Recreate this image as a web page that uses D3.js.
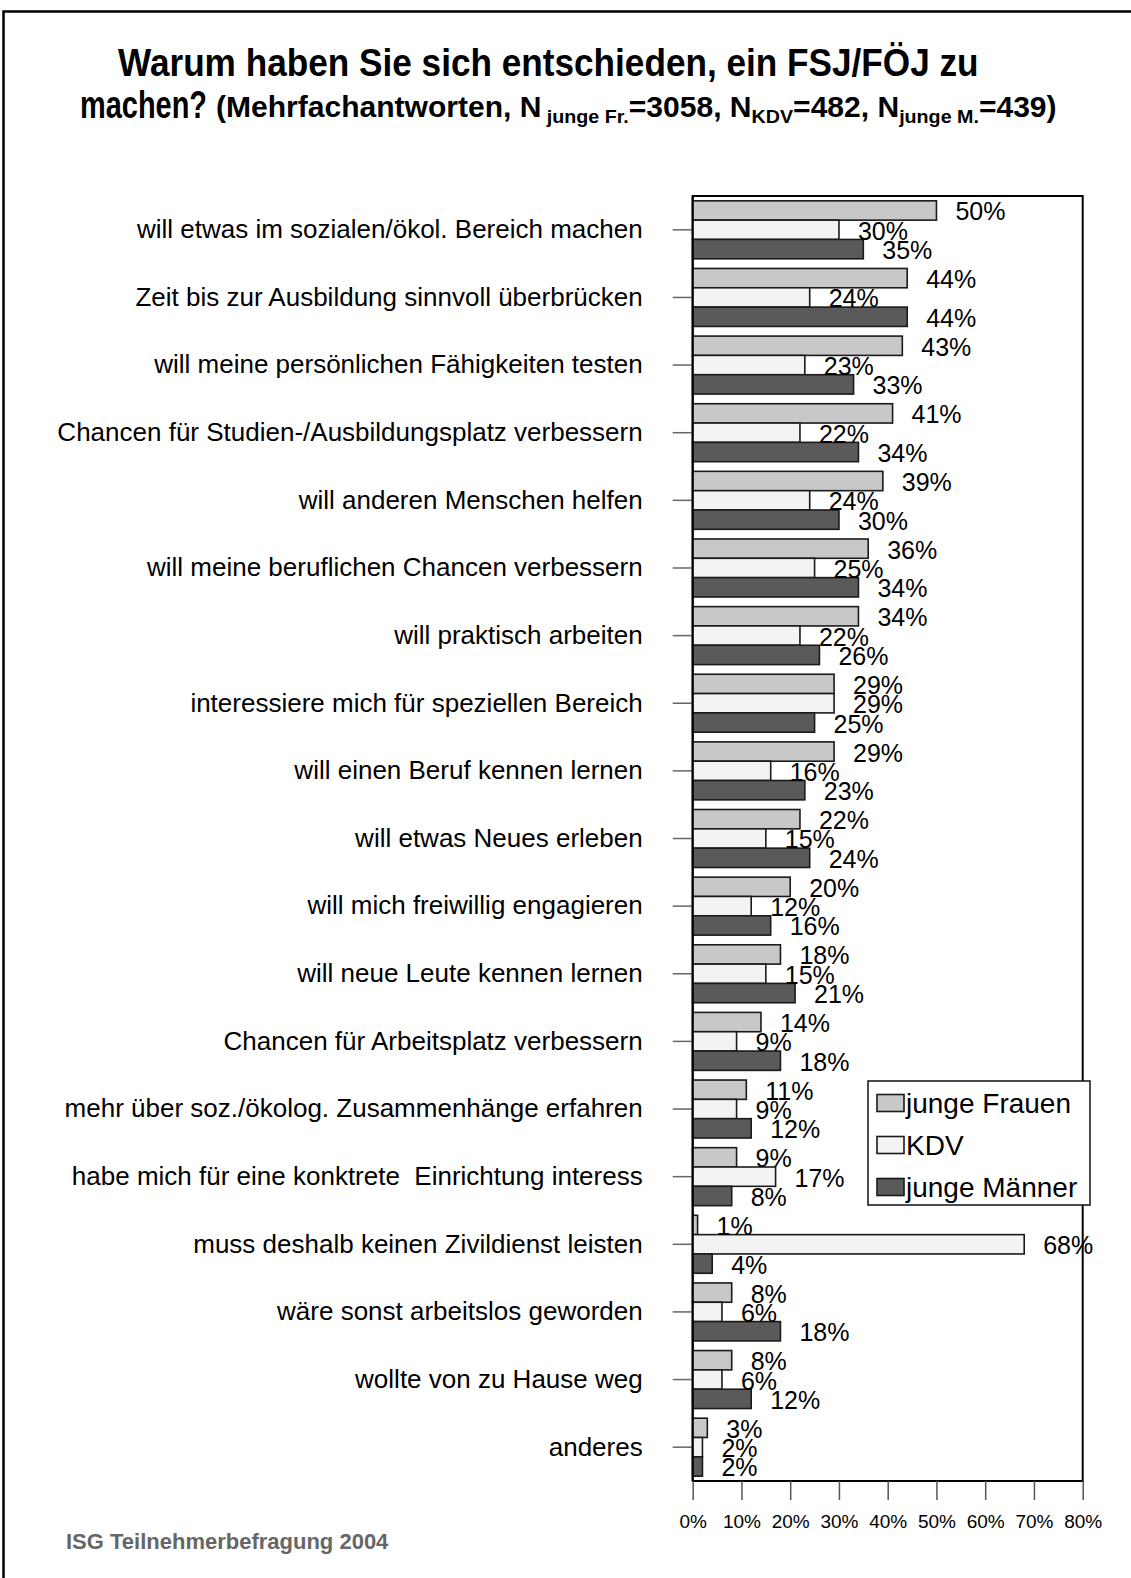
<!DOCTYPE html>
<html lang="de">
<head>
<meta charset="utf-8">
<title>FSJ/FÖJ – Gründe</title>
<script src="https://cdn.jsdelivr.net/npm/d3@7"></script>
<style>
  html, body { margin: 0; padding: 0; background: #fff; }
  svg { display: block; font-family: "Liberation Sans", Arial, Helvetica, sans-serif; }
</style>
</head>
<body>
<svg id="chart" width="1131" height="1578"></svg>
<script>
// Reasons for choosing a voluntary year (percent, multiple answers)
const categories = [
  "will etwas im sozialen/ökol. Bereich machen",
  "Zeit bis zur Ausbildung sinnvoll überbrücken",
  "will meine persönlichen Fähigkeiten testen",
  "Chancen für Studien-/Ausbildungsplatz verbessern",
  "will anderen Menschen helfen",
  "will meine beruflichen Chancen verbessern",
  "will praktisch arbeiten",
  "interessiere mich für speziellen Bereich",
  "will einen Beruf kennen lernen",
  "will etwas Neues erleben",
  "will mich freiwillig engagieren",
  "will neue Leute kennen lernen",
  "Chancen für Arbeitsplatz verbessern",
  "mehr über soz./ökolog. Zusammenhänge erfahren",
  "habe mich für eine konktrete  Einrichtung interess",
  "muss deshalb keinen Zivildienst leisten",
  "wäre sonst arbeitslos geworden",
  "wollte von zu Hause weg",
  "anderes"
];
const jungeFrauen = [50, 44, 43, 41, 39, 36, 34, 29, 29, 22, 20, 18, 14, 11, 9, 1, 8, 8, 3];
const kdv         = [30, 24, 23, 22, 24, 25, 22, 29, 16, 15, 12, 15, 9, 9, 17, 68, 6, 6, 2];
const jungeMaenner= [35, 44, 33, 34, 30, 34, 26, 25, 23, 24, 16, 21, 18, 12, 8, 4, 18, 12, 2];
const seriesNames = ["junge Frauen", "KDV", "junge Männer"];
const xTickValues = [0, 10, 20, 30, 40, 50, 60, 70, 80];

const seriesValues = [jungeFrauen, kdv, jungeMaenner];
const fills = ["#c8c8c8", "#f3f3f3", "#5a5a5a"];

const svg = d3.select("#chart");

// outer frame (left and top edges)
svg.append("path")
  .attr("d", "M3.5,1578 V11.5 H1131")
  .attr("fill", "none").attr("stroke", "#000").attr("stroke-width", 2.5);

// ---- title ----
function fitText(sel, x0, x1) {
  const node = sel.node();
  const w = node.getComputedTextLength();
  const sx = (x1 - x0) / w;
  const y = +sel.attr("data-y");
  sel.attr("x", 0).attr("y", 0)
     .attr("transform", `translate(${x0},${y}) scale(${sx},1)`);
}

const t1 = svg.append("text")
  .attr("data-y", 76)
  .attr("font-weight", "bold").attr("font-size", 39).attr("fill", "#000")
  .text("Warum haben Sie sich entschieden, ein FSJ/FÖJ zu");
fitText(t1, 118, 979);

const t2a = svg.append("text")
  .attr("data-y", 118)
  .attr("font-weight", "bold").attr("font-size", 39).attr("fill", "#000")
  .text("machen?");
fitText(t2a, 80, 207);

const t2b = svg.append("text")
  .attr("data-y", 117)
  .attr("font-weight", "bold").attr("font-size", 29).attr("fill", "#000");
const parts = [
  ["(Mehrfachantworten, N", false],
  [" junge Fr.", true],
  ["=3058, N", false],
  ["KDV", true],
  ["=482, N", false],
  ["junge M.", true],
  ["=439)", false]
];
parts.forEach(([s, sub], i) => {
  const ts = t2b.append("tspan").text(s);
  if (sub) ts.attr("font-size", 19).attr("dy", 6);
  else if (i > 0 && parts[i - 1][1]) ts.attr("dy", -6);
});
t2b.style("white-space", "pre");
fitText(t2b, 216, 1057);

// ---- plot ----
const plot = { left: 692.7, right: 1082.7, top: 196, bottom: 1481 };

const x = d3.scaleLinear().domain([0, 80]).range([plot.left, plot.right]);
const y = d3.scaleBand().domain(categories).range([plot.top, plot.bottom]).padding(0);
const inner = d3.scaleBand().domain(seriesNames)
  .range([0, y.bandwidth()]).paddingInner(0).paddingOuter(0.25);

// plot frame
svg.append("rect")
  .attr("x", plot.left).attr("y", plot.top)
  .attr("width", plot.right - plot.left).attr("height", plot.bottom - plot.top)
  .attr("fill", "#fff").attr("stroke", "#000").attr("stroke-width", 2);

// x axis
const xAxis = svg.append("g")
  .attr("transform", `translate(0,${plot.bottom})`)
  .call(d3.axisBottom(x).tickValues(xTickValues).tickFormat(d => d + "%")
        .tickSize(19).tickPadding(15).tickSizeOuter(0));
xAxis.select(".domain").remove();
xAxis.selectAll(".tick line").attr("stroke", "#555").attr("stroke-width", 1.5);
xAxis.selectAll(".tick text")
  .attr("font-family", "Liberation Sans, Arial, sans-serif")
  .attr("font-size", 19).attr("fill", "#000");

// y axis
const yAxis = svg.append("g")
  .attr("transform", `translate(${plot.left},0)`)
  .call(d3.axisLeft(y).tickSize(20).tickPadding(30).tickSizeOuter(0));
yAxis.select(".domain").remove();
yAxis.selectAll(".tick line").attr("stroke", "#666").attr("stroke-width", 1.5);
yAxis.selectAll(".tick text")
  .attr("font-family", "Liberation Sans, Arial, sans-serif")
  .attr("font-size", 26).attr("fill", "#000")
  .style("white-space", "pre");

// bars
const rows = categories.map((c, i) => ({
  cat: c,
  vals: seriesNames.map((s, k) => ({ series: s, k, v: seriesValues[k][i] }))
}));

const groups = svg.append("g").selectAll("g")
  .data(rows).join("g")
  .attr("transform", d => `translate(0,${y(d.cat)})`);

groups.selectAll("rect")
  .data(d => d.vals).join("rect")
  .attr("x", x(0))
  .attr("y", d => inner(d.series))
  .attr("width", d => x(d.v) - x(0))
  .attr("height", inner.bandwidth())
  .attr("fill", d => fills[d.k])
  .attr("stroke", "#1a1a1a").attr("stroke-width", 1.6);

groups.selectAll("text")
  .data(d => d.vals).join("text")
  .attr("x", d => x(d.v) + 19)
  .attr("y", d => inner(d.series) + inner.bandwidth() / 2 + 1)
  .attr("dy", "0.36em")
  .attr("font-size", 25).attr("fill", "#000")
  .text(d => d.v + "%");

// left axis line over bar edges
svg.append("line")
  .attr("x1", plot.left).attr("x2", plot.left)
  .attr("y1", plot.top).attr("y2", plot.bottom)
  .attr("stroke", "#000").attr("stroke-width", 2);

// legend
const legend = svg.append("g").attr("transform", "translate(868,1081)");
legend.append("rect")
  .attr("width", 222).attr("height", 124)
  .attr("fill", "#fff").attr("stroke", "#111").attr("stroke-width", 1.5);
const li = legend.selectAll("g.item").data(seriesNames).join("g")
  .attr("class", "item")
  .attr("transform", (d, i) => `translate(9,${22 + i * 42})`);
li.append("rect")
  .attr("x", 0).attr("y", -8.5).attr("width", 27).attr("height", 17)
  .attr("fill", (d, i) => fills[i]).attr("stroke", "#1a1a1a").attr("stroke-width", 1.6);
li.append("text")
  .attr("x", 29).attr("y", 0).attr("dy", "0.36em")
  .attr("font-size", 28).attr("fill", "#000")
  .text(d => d);

// source note
svg.append("text")
  .attr("x", 66).attr("y", 1549)
  .attr("font-weight", "bold").attr("font-size", 22).attr("fill", "#666")
  .text("ISG Teilnehmerbefragung 2004");
</script>
</body>
</html>
